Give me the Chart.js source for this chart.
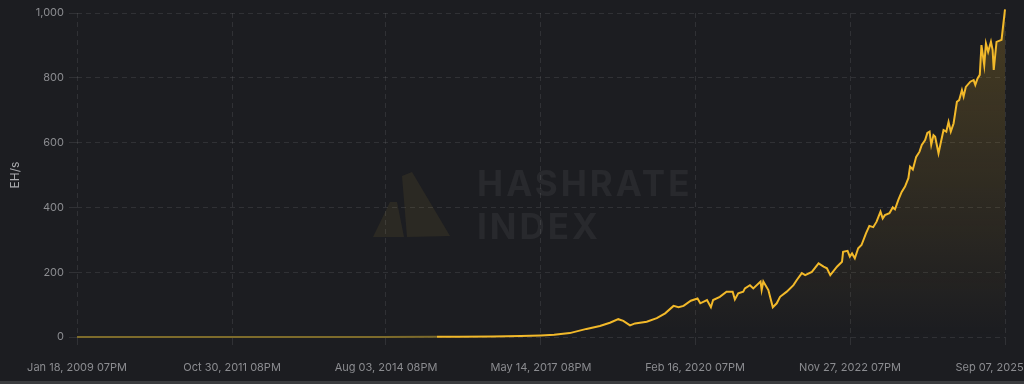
<!DOCTYPE html>
<html>
<head>
<meta charset="utf-8">
<script src="https://cdn.jsdelivr.net/npm/chart.js@4.4.0/dist/chart.umd.min.js"></script>
<style>
  html, body { margin: 0; padding: 0; background: #1c1d21; }
  #wrap { position: relative; width: 1024px; height: 384px; }
  #wrap::after { content: ''; position: absolute; left: 0; right: 0; bottom: 0; height: 3px; background: #3a3b3e; }
</style>
</head>
<body>
<div id="wrap"><canvas id="chart" width="1024" height="384"></canvas></div>
<script>
// network hashrate, EH/s, x = decimal year
const years = [
  2009.047, 2011.0, 2013.0, 2014.5, 2015.5, 2015.9, 2016.5, 2017.0, 2017.36, 2017.6,
  2017.88, 2018.18, 2018.42, 2018.60, 2018.75, 2018.84, 2018.96, 2019.05, 2019.26, 2019.44,
  2019.59, 2019.74, 2019.83, 2019.92, 2020.05, 2020.17, 2020.22, 2020.34, 2020.41, 2020.45,
  2020.57, 2020.69, 2020.80, 2020.84, 2020.90, 2020.99, 2021.02, 2021.11, 2021.17, 2021.30,
  2021.32, 2021.35, 2021.44, 2021.52, 2021.59, 2021.65, 2021.77, 2021.89, 2021.95, 2022.04,
  2022.10, 2022.22, 2022.34, 2022.43, 2022.49, 2022.55, 2022.67, 2022.76, 2022.78, 2022.86,
  2022.90, 2022.94, 2022.99, 2023.05, 2023.11, 2023.19, 2023.25, 2023.32, 2023.38, 2023.45,
  2023.49, 2023.53, 2023.61, 2023.67, 2023.71, 2023.77, 2023.83, 2023.89, 2023.95, 2023.98,
  2024.03, 2024.09, 2024.15, 2024.19, 2024.25, 2024.29, 2024.33, 2024.36, 2024.40, 2024.43,
  2024.49, 2024.58, 2024.63, 2024.67, 2024.71, 2024.76, 2024.82, 2024.86, 2024.91, 2024.94,
  2024.98, 2025.06, 2025.12, 2025.15, 2025.19, 2025.23, 2025.26, 2025.31, 2025.34, 2025.38,
  2025.43, 2025.46, 2025.48, 2025.53, 2025.62, 2025.682
];
const hashrate = [
  0, 0, 0.02, 0.2, 0.45, 0.7, 1.5, 2.8, 5, 7,
  12, 25, 34, 44, 55, 50, 36, 42, 47, 58,
  73, 96, 92, 96, 112, 119, 104, 114, 92, 114,
  124, 140, 140, 116, 135, 140, 150, 160, 150, 171,
  145, 171, 145, 92, 104, 124, 140, 160, 176, 197,
  191, 201, 227, 217, 212, 191, 217, 232, 263, 266,
  248, 258, 243, 274, 284, 320, 343, 339, 356, 387,
  366, 376, 382, 400, 394, 423, 448, 464, 490, 526,
  517, 556, 572, 593, 608, 630, 634, 593, 623, 618,
  567, 639, 634, 664, 634, 659, 726, 731, 762, 742,
  772, 788, 793, 778, 798, 809, 901, 839, 906, 880,
  911, 886, 824, 911, 917, 1011
];
const tickYears = [2009.047, 2011.827, 2014.586, 2017.364, 2020.126, 2022.904, 2025.682];
const tickLabels = [
  'Jan 18, 2009 07PM', 'Oct 30, 2011 08PM', 'Aug 03, 2014 08PM', 'May 14, 2017 08PM',
  'Feb 16, 2020 07PM', 'Nov 27, 2022 07PM', 'Sep 07, 2025'
];
const yTicks = [0, 200, 400, 600, 800, 1000];

const gold = '#f2b92a';
const gridColor = 'rgba(255,255,255,0.09)';
const labelColor = '#8b8c90';

// faint logo + wordmark behind the plot
const watermark = {
  id: 'watermark',
  beforeDraw(chart) {
    const ctx = chart.ctx;
    ctx.save();
    ctx.fillStyle = 'rgba(200,170,60,0.09)';
    ctx.beginPath();
    ctx.moveTo(402, 176); ctx.lineTo(412, 172); ctx.lineTo(450, 236); ctx.lineTo(407, 237);
    ctx.closePath(); ctx.fill();
    ctx.beginPath();
    ctx.moveTo(390, 202); ctx.lineTo(397, 202); ctx.lineTo(404, 237); ctx.lineTo(373, 237);
    ctx.closePath(); ctx.fill();
    ctx.fillStyle = 'rgba(255,255,255,0.055)';
    ctx.font = 'bold 35px Inter';
    ctx.letterSpacing = '3px';
    ctx.textBaseline = 'alphabetic';
    ctx.fillText('HASHRATE', 477, 196);
    ctx.fillText('INDEX', 477, 239);
    ctx.restore();
  }
};

new Chart(document.getElementById('chart'), {
  type: 'line',
  data: {
    datasets: [{
      label: 'Hashrate',
      data: years.map((x, i) => ({ x, y: hashrate[i] })),
      borderColor: gold,
      borderWidth: 2,
      pointRadius: 0,
      tension: 0,
      clip: false,
      fill: 'origin',
      backgroundColor: ctx => {
        const area = ctx.chart.chartArea;
        if (!area) return 'transparent';
        const g = ctx.chart.ctx.createLinearGradient(0, area.top, 0, area.bottom);
        g.addColorStop(0, 'rgba(242,185,42,0.2)');
        g.addColorStop(1, 'rgba(242,185,42,0.0)');
        return g;
      },
      segment: {
        borderColor: c => c.p1.parsed.y < 0.6 ? '#7d6b2b' : undefined
      }
    }]
  },
  options: {
    responsive: false,
    animation: false,
    layout: { padding: { top: 13, right: 19, left: 0, bottom: 0 } },
    plugins: { legend: { display: false }, tooltip: { enabled: false } },
    scales: {
      x: {
        type: 'linear',
        min: tickYears[0],
        max: tickYears[tickYears.length - 1],
        afterBuildTicks: s => { s.ticks = tickYears.map(v => ({ value: v })); },
        afterFit: s => { s.height = 47; s.paddingRight = 0; s.paddingLeft = 0; },
        border: { display: false, dash: [5, 4] },
        grid: { color: gridColor, tickLength: 8, tickColor: gridColor },
        ticks: {
          autoSkip: false,
          maxRotation: 0,
          padding: 16,
          color: labelColor,
          font: { family: 'Inter', size: 11 },
          // last label is pushed left so it stays inside the canvas
          callback: (v, i) => i === tickLabels.length - 1 ? tickLabels[i] + '          ' : tickLabels[i]
        }
      },
      y: {
        min: 0,
        max: 1000,
        afterBuildTicks: s => { s.ticks = yTicks.map(v => ({ value: v })); },
        afterFit: s => { s.width = 77; },
        border: { display: false, dash: [5, 4] },
        grid: { color: gridColor, tickLength: 8, tickColor: gridColor },
        title: {
          display: true,
          text: 'EH/s',
          color: '#a9aaae',
          font: { family: 'Inter', size: 12 },
          padding: { top: 8, bottom: 0 }
        },
        ticks: {
          padding: 5,
          color: labelColor,
          font: { family: 'Inter', size: 11 }
        }
      }
    }
  },
  plugins: [watermark]
});
</script>
</body>
</html>
